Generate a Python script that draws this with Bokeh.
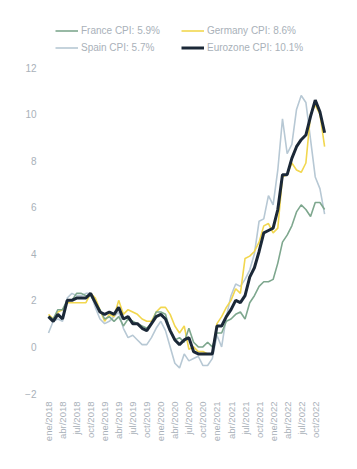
from bokeh.plotting import figure
from bokeh.models import Range1d, FixedTicker, Legend, LegendItem
from bokeh.embed import file_html
from bokeh.resources import INLINE
import math

# Monthly YoY inflation, ene/2018 .. dic/2022
france = [1.3, 1.2, 1.6, 1.6, 2.0, 2.0, 2.3, 2.3, 2.2, 2.2, 1.9, 1.6,
          1.2, 1.3, 1.1, 1.3, 0.9, 1.2, 1.1, 1.0, 0.9, 0.8, 1.0, 1.5,
          1.5, 1.4, 0.7, 0.3, 0.4, 0.2, 0.8, 0.2, 0.0, 0.0, 0.2, 0.0,
          0.6, 0.6, 1.1, 1.2, 1.4, 1.5, 1.2, 1.9, 2.2, 2.6, 2.8, 2.8,
          2.9, 3.6, 4.5, 4.8, 5.2, 5.8, 6.1, 5.9, 5.6, 6.2, 6.2, 5.9]
germany = [1.4, 1.2, 1.5, 1.6, 1.9, 1.9, 1.9, 1.9, 1.9, 2.3, 2.1, 1.6,
           1.1, 1.4, 1.3, 2.0, 1.4, 1.6, 1.5, 1.4, 1.2, 1.1, 1.1, 1.5,
           1.7, 1.7, 1.4, 0.9, 0.6, 0.9, -0.1, 0.0, -0.2, -0.2, -0.3, -0.3,
           1.0, 1.3, 1.7, 2.0, 2.5, 2.3, 3.8, 3.9, 4.1, 4.5, 5.2, 5.3,
           4.9, 5.1, 7.3, 7.4, 7.9, 7.6, 7.5, 7.9, 10.0, 10.4, 10.0, 8.6]
spain = [0.6, 1.1, 1.2, 1.1, 2.1, 2.3, 2.2, 2.2, 2.3, 2.3, 1.7, 1.2,
         1.0, 1.1, 1.3, 1.5, 0.8, 0.4, 0.5, 0.3, 0.1, 0.1, 0.4, 0.8,
         1.1, 0.7, 0.0, -0.7, -0.9, -0.3, -0.6, -0.5, -0.4, -0.8, -0.8, -0.5,
         0.5, 0.0, 1.3, 2.2, 2.7, 2.6, 2.9, 3.3, 4.0, 5.4, 5.5, 6.5,
         6.1, 7.6, 9.8, 8.3, 8.7, 10.2, 10.8, 10.5, 8.9, 7.3, 6.8, 5.7]
eurozone = [1.3, 1.1, 1.4, 1.2, 2.0, 2.0, 2.1, 2.1, 2.1, 2.3, 1.9, 1.5,
            1.4, 1.5, 1.4, 1.7, 1.2, 1.3, 1.0, 1.0, 0.8, 0.7, 1.0, 1.3,
            1.4, 1.2, 0.7, 0.3, 0.1, 0.3, 0.4, -0.2, -0.3, -0.3, -0.3, -0.3,
            0.9, 0.9, 1.3, 1.6, 2.0, 1.9, 2.2, 3.0, 3.4, 4.1, 4.9, 5.0,
            5.1, 5.9, 7.4, 7.4, 8.1, 8.6, 8.9, 9.1, 9.9, 10.6, 10.1, 9.2]

tick_pos = [0, 3, 6, 9, 12, 15, 18, 21, 24, 27, 30, 33, 36, 39, 42, 45, 48, 51, 54, 57]
tick_labels = ["ene/2018", "abr/2018", "jul/2018", "oct/2018",
               "ene/2019", "abr/2019", "jul/2019", "oct/2019",
               "ene/2020", "abr/2020", "jul/2020", "oct/2020",
               "ene/2021", "abr/2021", "jul/2021", "oct/2021",
               "ene/2022", "abr/2022", "jul/2022", "oct/2022"]
y_ticks = [-2, 0, 2, 4, 6, 8, 10, 12]

series_names = ["France CPI: 5.9%", "Germany CPI: 8.6%", "Spain CPI: 5.7%", "Eurozone CPI: 10.1%"]

x = list(range(len(eurozone)))

p = figure(width=349, height=461, output_backend="svg", toolbar_location=None,
           x_range=Range1d(-1.71, 60.26), y_range=Range1d(-2, 14.32),
           min_border_left=40, min_border_right=19, min_border_top=13, min_border_bottom=68)
p.outline_line_color = None
p.xgrid.visible = False
p.ygrid.visible = False
p.background_fill_color = "white"
p.border_fill_color = "white"

r_spain = p.line(x, spain, line_color="#b7c8d4", line_width=1.6)
r_germany = p.line(x, germany, line_color="#f2d74f", line_width=1.6)
r_france = p.line(x, france, line_color="#7ea78e", line_width=1.6)
r_euro = p.line(x, eurozone, line_color="#1b2837", line_width=3)

lab_color = "#a9b1b9"
p.yaxis.ticker = FixedTicker(ticks=y_ticks)
p.yaxis.axis_line_color = None
p.yaxis.major_tick_line_color = None
p.yaxis.minor_tick_line_color = None
p.yaxis.major_tick_out = 0
p.yaxis.major_label_standoff = 4
p.yaxis.major_label_text_color = lab_color
p.yaxis.major_label_text_font = "Liberation Sans"
p.yaxis.major_label_text_font_size = "10px"

p.xaxis.ticker = FixedTicker(ticks=tick_pos)
p.xaxis.major_label_overrides = {t: l for t, l in zip(tick_pos, tick_labels)}
p.xaxis.major_label_orientation = math.pi / 2
p.xaxis.axis_line_color = None
p.xaxis.major_tick_line_color = None
p.xaxis.minor_tick_line_color = None
p.xaxis.major_tick_out = 0
p.xaxis.major_label_standoff = 8
p.xaxis.major_label_text_color = lab_color
p.xaxis.major_label_text_font = "Liberation Sans"
p.xaxis.major_label_text_font_size = "9.5px"

# legend fills column by column: France, Spain | Germany, Eurozone
legend = Legend(items=[
    LegendItem(label=series_names[0], renderers=[r_france]),
    LegendItem(label=series_names[2], renderers=[r_spain]),
    LegendItem(label=series_names[1], renderers=[r_germany]),
    LegendItem(label=series_names[3], renderers=[r_euro]),
], ncols=2, location=(15, 337.5))
legend.padding = 0
legend.margin = 0
legend.border_line_color = None
legend.background_fill_alpha = 0
legend.label_text_color = lab_color
legend.label_text_font = "Liberation Sans"
legend.label_text_font_size = "10px"
legend.glyph_width = 23
legend.glyph_height = 17
legend.label_height = 17
legend.label_width = 100
legend.label_standoff = 3
legend.spacing = 0
p.add_layout(legend, "center")

open("out.html", "w").write(file_html(p, INLINE))
